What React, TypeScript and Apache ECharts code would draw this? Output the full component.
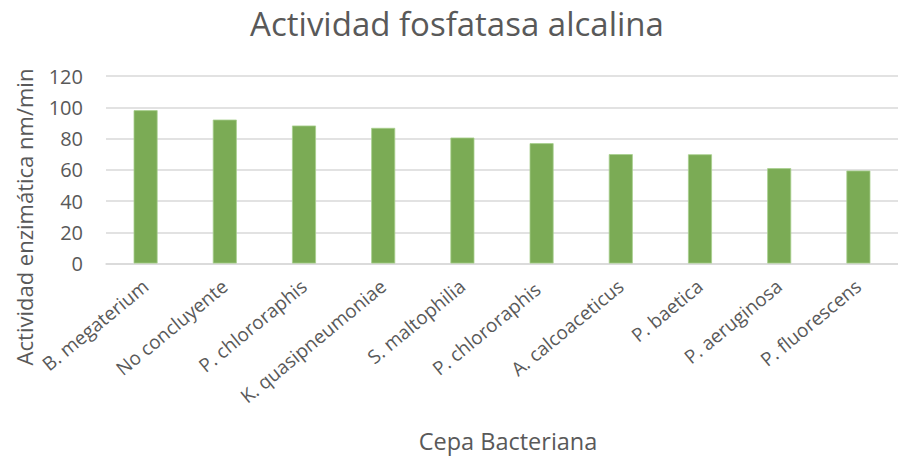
import React, { useEffect, useRef } from "react";
import * as echarts from "echarts";

const categories = [
  "B. megaterium",
  "No concluyente",
  "P. chlororaphis",
  "K. quasipneumoniae",
  "S. maltophilia",
  "P. chlororaphis ",
  "A. calcoaceticus",
  "P. baetica",
  "P. aeruginosa",
  "P. fluorescens",
];
const values = [98.1, 92.1, 88.3, 86.8, 80.6, 77.0, 70.0, 69.9, 61.0, 59.5];
const yTicks = { min: 0, max: 120, interval: 20 };
const title = "Actividad fosfatasa alcalina";
const yName = "Actividad enzimática nm/min";
const xName = "Cepa Bacteriana";

const FONT = "'Open Sans', 'Noto Sans', sans-serif";
const GREY = "#595959";

export default function App() {
  const ref = useRef<HTMLDivElement>(null);
  useEffect(() => {
    if (!ref.current) return;
    const chart = echarts.init(ref.current, undefined, { renderer: "svg" });
    chart.setOption({
      animation: false,
      backgroundColor: "#ffffff",
      title: {
        text: title,
        left: 452,
        top: 2,
        textAlign: "center",
        textStyle: { fontFamily: FONT, fontSize: 33, fontWeight: "normal", color: GREY },
      },
      grid: { left: 106, top: 76, width: 801, height: 187.5, containLabel: false },
      xAxis: {
        type: "category",
        data: categories,
        axisLine: { lineStyle: { color: "#d9d9d9", width: 1.5 } },
        axisTick: { show: false },
        axisLabel: {
          rotate: 39.5,
          interval: 0,
          margin: 20,
          fontFamily: FONT,
          fontSize: 19,
          color: GREY,
        },
      },
      yAxis: {
        type: "value",
        min: yTicks.min,
        max: yTicks.max,
        interval: yTicks.interval,
        axisLine: { show: false },
        axisTick: { show: false },
        splitLine: { lineStyle: { color: "#d9d9d9", width: 1.5 } },
        axisLabel: { fontFamily: FONT, fontSize: 20, color: GREY, margin: 23 },
      },
      series: [
        {
          type: "bar",
          data: values,
          barWidth: 24,
          itemStyle: { color: "#7bab55", borderColor: "#a8cf8e", borderWidth: 0.8 },
        },
      ],
      graphic: [
        {
          type: "text",
          x: 24,
          y: 217,
          rotation: Math.PI / 2,
          style: {
            text: yName,
            fontFamily: FONT,
            fontSize: 22,
            fill: GREY,
            textAlign: "center",
            textVerticalAlign: "middle",
          },
        },
        {
          type: "text",
          x: 508,
          y: 441,
          style: {
            text: xName,
            fontFamily: FONT,
            fontSize: 23.5,
            fill: GREY,
            textAlign: "center",
            textVerticalAlign: "middle",
          },
        },
      ],
    });
    return () => chart.dispose();
  }, []);
  return (
    <div
      ref={ref}
      style={{ position: "absolute", left: 0, top: 0, width: 898, height: 457 }}
    />
  );
}
